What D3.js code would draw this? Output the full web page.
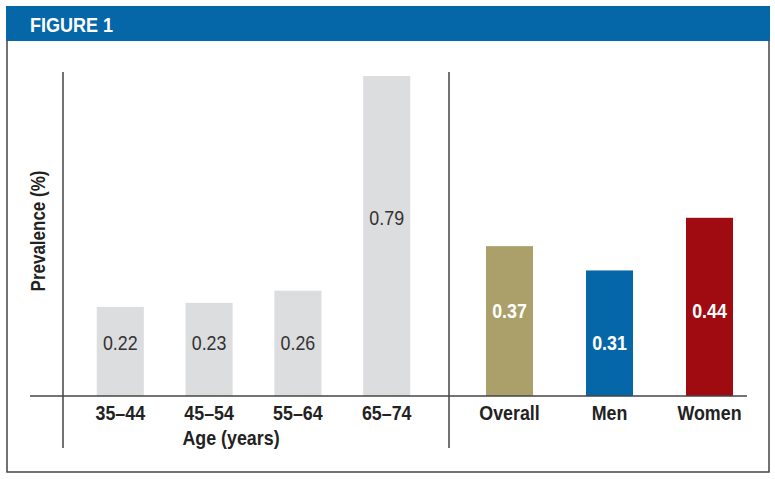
<!DOCTYPE html>
<html><head><meta charset="utf-8">
<script src="https://cdn.jsdelivr.net/npm/d3@7"></script>
<style>
html,body{margin:0;padding:0;background:#fff;}
svg{display:block;}
text{font-family:"Liberation Sans Narrow","Arial Narrow","Liberation Sans",Arial,sans-serif;}
</style></head>
<body>
<svg id="chart" width="775" height="479"></svg>
<script>
const ageCategories = ["35–44","45–54","55–64","65–74"];
const ageValues = [0.22,0.23,0.26,0.79];
const groupCategories = ["Overall","Men","Women"];
const groupValues = [0.37,0.31,0.44];
const groupColors = ["#ab9f6a","#0567a8","#a00b12"];
const ageColor = "#dcddde";
const title = "FIGURE 1";
const yLabel = "Prevalence (%)";
const xLabel = "Age (years)";

const svg = d3.select("#chart");
const SX = 0.85; // condensed look

function ctext(x, y, str, size, weight, fill, rot) {
  return svg.append("text")
    .attr("transform", `translate(${x},${y})` + (rot ? ` rotate(${rot})` : "") + ` scale(${SX},1)`)
    .attr("text-anchor","middle").attr("font-size",size).attr("font-weight",weight).attr("fill",fill).text(str);
}

// header
svg.append("rect").attr("x",6).attr("y",6).attr("width",764).attr("height",35).attr("fill","#0567a8");
svg.append("text").attr("transform","translate(30,32) scale(0.9,1)").attr("fill","#fff").attr("font-size",20).attr("font-weight","bold").text(title);

// frame
svg.append("path").attr("d","M7,41 V472 H769 V41").attr("fill","none").attr("stroke","#444").attr("stroke-width",1.5);

const base = 396;
const y = d3.scaleLinear().domain([0,0.8]).range([base,72]);

const xAge = d3.scaleBand().domain(ageCategories).range([55,452]).paddingInner(0.47).paddingOuter(0.47);
const xGrp = d3.scaleBand().domain(groupCategories).range([449,770]).paddingInner(0.53).paddingOuter(0.37);

// bars
svg.selectAll("rect.age").data(ageValues).join("rect").attr("class","age")
  .attr("x",(d,i)=>xAge(ageCategories[i])).attr("width",xAge.bandwidth())
  .attr("y",d=>y(d)).attr("height",d=>base-y(d)).attr("fill",ageColor);
svg.selectAll("rect.grp").data(groupValues).join("rect").attr("class","grp")
  .attr("x",(d,i)=>xGrp(groupCategories[i])).attr("width",xGrp.bandwidth())
  .attr("y",d=>y(d)).attr("height",d=>base-y(d)).attr("fill",(d,i)=>groupColors[i]);

// value labels
ageValues.forEach((d,i)=>{
  ctext(xAge(ageCategories[i])+xAge.bandwidth()/2, d>0.5 ? 225 : 350, d.toFixed(2), 21, "normal", "#333");
});
groupValues.forEach((d,i)=>{
  ctext(xGrp(groupCategories[i])+xGrp.bandwidth()/2, d<0.35 ? 350 : 318, d.toFixed(2), 21, "bold", "#fff");
});

// axes lines
svg.append("line").attr("x1",30).attr("x2",747).attr("y1",base).attr("y2",base).attr("stroke","#444").attr("stroke-width",1.5);
svg.append("line").attr("x1",63).attr("x2",63).attr("y1",72).attr("y2",448).attr("stroke","#444").attr("stroke-width",1.5);
svg.append("line").attr("x1",449).attr("x2",449).attr("y1",72).attr("y2",448).attr("stroke","#444").attr("stroke-width",1.5);

// category labels
ageCategories.forEach(c=>ctext(xAge(c)+xAge.bandwidth()/2, 420, c, 21, "bold", "#222"));
groupCategories.forEach(c=>ctext(xGrp(c)+xGrp.bandwidth()/2, 420, c, 21, "bold", "#222"));

ctext(231, 445, xLabel, 21, "bold", "#222");
ctext(45, 231, yLabel, 20, "bold", "#222", -90);
</script>
</body></html>
